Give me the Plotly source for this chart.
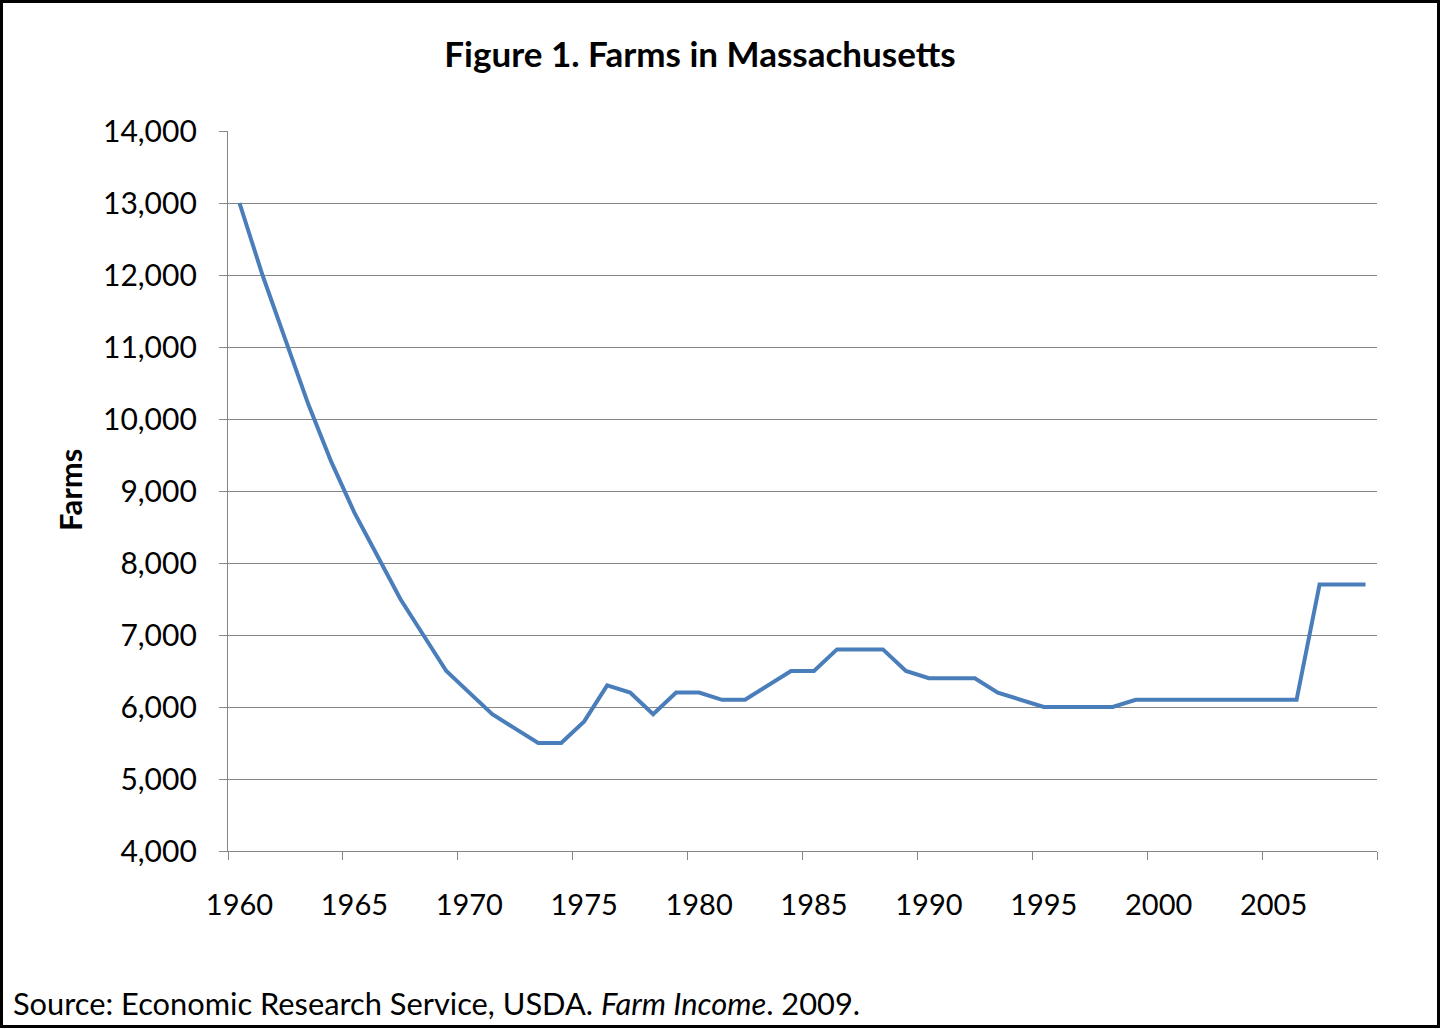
import plotly.graph_objects as go

# Farms in Massachusetts, 1960-2009
years = list(range(1960, 2010))
farms = [13000, 12000, 11100, 10200, 9400, 8700, 8100, 7500, 7000, 6500,
         6200, 5900, 5700, 5500, 5500, 5800, 6300, 6200, 5900, 6200,
         6200, 6100, 6100, 6300, 6500, 6500, 6800, 6800, 6800, 6500,
         6400, 6400, 6400, 6200, 6100, 6000, 6000, 6000, 6000, 6100,
         6100, 6100, 6100, 6100, 6100, 6100, 6100, 7700, 7700, 7700]
label_years = [1960, 1965, 1970, 1975, 1980, 1985, 1990, 1995, 2000, 2005]
y_ticks = list(range(4000, 15000, 1000))

W, H = 1441, 1029
L, R, T, B = 228, 64, 131, 178
pw, ph = W - L - R, H - T - B

FONT = 'Lato, "Open Sans", sans-serif'
GRID = '#868686'


def px_x(p):
    return (p - L) / pw


def px_y(p):
    return (H - B - p) / ph


fig = go.Figure()
fig.add_trace(go.Scatter(
    x=years,
    y=farms,
    mode='lines',
    line=dict(color='#4A7EBB', width=4),
    hovertemplate='%{x}: %{y:,}<extra></extra>'
))

fig.update_layout(
    width=W, height=H,
    margin=dict(l=L, r=R, t=T, b=B),
    plot_bgcolor='white',
    paper_bgcolor='white',
    font=dict(family=FONT, color='black', size=29),
    showlegend=False,
    title=dict(
        text='<b>Figure 1. Farms in Massachusetts</b>',
        x=700 / W, xanchor='center',
        y=1 - 55 / H, yanchor='middle', yref='container',
        font=dict(size=35, family=FONT)
    ),
    xaxis=dict(
        range=[1959.5, 2009.5],
        tickmode='array', tickvals=label_years,
        ticktext=[str(y) for y in label_years],
        ticks='', showgrid=False, zeroline=False,
        showline=True, linecolor=GRID, linewidth=1.4,
        ticklabelstandoff=28,
        tickfont=dict(size=29),
        minor=dict(tick0=1959.5, dtick=5, ticks='outside', ticklen=8,
                   tickcolor=GRID, tickwidth=1.4, showgrid=False),
        fixedrange=True
    ),
    yaxis=dict(
        range=[4000, 14000],
        tickmode='array', tickvals=y_ticks,
        tickformat=',',
        ticks='outside', ticklen=8, tickcolor=GRID, tickwidth=1.4,
        showgrid=True, gridcolor=GRID, gridwidth=1.4,
        zeroline=False,
        showline=True, linecolor=GRID, linewidth=1.4,
        ticklabelstandoff=16,
        tickfont=dict(size=30),
        fixedrange=True
    ),
    annotations=[
        dict(text='<b>Farms</b>', textangle=-90,
             xref='paper', yref='paper', x=px_x(70), y=px_y(490),
             xanchor='center', yanchor='middle', showarrow=False,
             font=dict(size=31, family=FONT)),
        dict(text='Source: Economic Research Service, USDA. <i>Farm Income</i>. 2009.',
             xref='paper', yref='paper', x=px_x(11), y=px_y(1004),
             xanchor='left', yanchor='middle', showarrow=False,
             font=dict(size=30.8, family=FONT))
    ],
    shapes=[
        dict(type='rect', xref='paper', yref='paper',
             x0=px_x(1.5), x1=px_x(W - 2.5), y0=px_y(H - 2.5), y1=px_y(1.5),
             line=dict(color='black', width=3), layer='above')
    ]
)

fig.write_html("out.html", config={'displayModeBar': False},
               post_script="document.body.style.margin='0';")
